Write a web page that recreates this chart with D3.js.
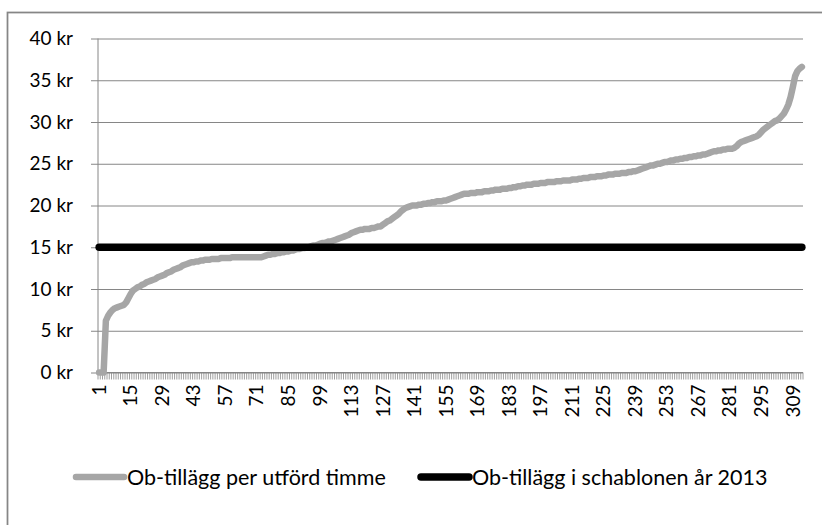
<!DOCTYPE html>
<html lang="sv">
<head>
<meta charset="UTF-8" />
<script src="https://d3js.org/d3.v7.min.js"></script>
<style>
	body { margin: 0; background: #fff; }
	svg { display: block; }
	text { font-family: Lato, "Open Sans", sans-serif; fill: #000; }
</style>
</head>
<body>
<script>
// Ob-tillägg per utförd timme, sorterat stigande (en punkt per enhet, 313 st)
var obPerTimme = [
	0, 0, 0, 6.2, 6.8, 7.2, 7.5, 7.7, 7.8, 7.9,
	8.0, 8.1, 8.4, 8.9, 9.4, 9.8, 10.0, 10.2, 10.3, 10.5,
	10.6, 10.8, 10.9, 11.0, 11.1, 11.2, 11.4, 11.5, 11.6, 11.7,
	11.9, 12.0, 12.1, 12.3, 12.4, 12.5, 12.6, 12.8, 12.9, 13.0,
	13.1, 13.2, 13.2, 13.3, 13.3, 13.4, 13.4, 13.5, 13.5, 13.5,
	13.6, 13.6, 13.6, 13.6, 13.7, 13.7, 13.7, 13.7, 13.7, 13.8,
	13.8, 13.8, 13.8, 13.8, 13.8, 13.8, 13.8, 13.8, 13.8, 13.8,
	13.8, 13.8, 13.8, 13.9, 14.0, 14.1, 14.1, 14.2, 14.2, 14.3,
	14.3, 14.4, 14.4, 14.5, 14.5, 14.6, 14.6, 14.7, 14.8, 14.8,
	14.9, 14.9, 15.0, 15.0, 15.1, 15.2, 15.2, 15.3, 15.4, 15.5,
	15.5, 15.6, 15.7, 15.7, 15.8, 15.9, 16.0, 16.1, 16.2, 16.3,
	16.4, 16.5, 16.7, 16.8, 16.9, 17.0, 17.1, 17.1, 17.2, 17.2,
	17.2, 17.3, 17.3, 17.4, 17.5, 17.5, 17.7, 17.9, 18.1, 18.2,
	18.4, 18.6, 18.8, 19.0, 19.3, 19.5, 19.7, 19.8, 19.9, 20.0,
	20.0, 20.0, 20.1, 20.1, 20.2, 20.2, 20.3, 20.3, 20.4, 20.4,
	20.5, 20.5, 20.5, 20.6, 20.6, 20.7, 20.8, 20.9, 21.0, 21.1,
	21.2, 21.3, 21.4, 21.4, 21.4, 21.5, 21.5, 21.5, 21.6, 21.6,
	21.6, 21.7, 21.7, 21.7, 21.8, 21.8, 21.9, 21.9, 21.9, 22.0,
	22.0, 22.0, 22.1, 22.1, 22.2, 22.2, 22.3, 22.3, 22.4, 22.4,
	22.5, 22.5, 22.5, 22.6, 22.6, 22.6, 22.7, 22.7, 22.7, 22.8,
	22.8, 22.8, 22.8, 22.9, 22.9, 22.9, 23.0, 23.0, 23.0, 23.0,
	23.1, 23.1, 23.1, 23.2, 23.2, 23.3, 23.3, 23.3, 23.4, 23.4,
	23.4, 23.5, 23.5, 23.5, 23.6, 23.6, 23.7, 23.7, 23.7, 23.8,
	23.8, 23.8, 23.9, 23.9, 23.9, 24.0, 24.0, 24.1, 24.1, 24.2,
	24.3, 24.4, 24.5, 24.6, 24.7, 24.8, 24.8, 24.9, 25.0, 25.0,
	25.1, 25.2, 25.2, 25.3, 25.4, 25.4, 25.5, 25.5, 25.6, 25.6,
	25.7, 25.7, 25.8, 25.8, 25.9, 25.9, 26.0, 26.0, 26.1, 26.1,
	26.2, 26.3, 26.4, 26.5, 26.5, 26.6, 26.6, 26.7, 26.7, 26.8,
	26.8, 26.8, 26.9, 27.1, 27.4, 27.6, 27.7, 27.8, 27.9, 28.0,
	28.1, 28.2, 28.3, 28.5, 28.8, 29.1, 29.3, 29.5, 29.7, 29.9,
	30.1, 30.2, 30.4, 30.7, 31.0, 31.5, 32.1, 33.0, 34.2, 35.5,
	36.1, 36.4, 36.6
];
// schablonen 2013: 15 kr för alla
var schablon = obPerTimme.map(function() { return 15; });
var categories = obPerTimme.map(function(d, i) { return i + 1; });
var yTicks = [0, 5, 10, 15, 20, 25, 30, 35, 40];
var xLabels = categories.filter(function(c) { return (c - 1) % 14 === 0; });
var seriesNames = ["Ob-tillägg per utförd timme", "Ob-tillägg i schablonen år 2013"];
var seriesColors = ["#a6a6a6", "#000000"];
var seriesWidths = [6.5, 7.5];

var width = 822, height = 525;
var plotLeft = 98, plotRight = 803, plotTop = 38.5, plotBottom = 372.5;
var gridColor = "#868686";

var svg = d3.select("body").append("svg")
	.attr("width", width)
	.attr("height", height);

// ram runt diagrammet
svg.append("rect")
	.attr("x", 7.5).attr("y", 12.5)
	.attr("width", width).attr("height", height)
	.attr("fill", "none")
	.attr("stroke", gridColor)
	.attr("stroke-width", 1.75);

var x = d3.scaleBand()
	.domain(categories)
	.range([plotLeft, plotRight])
	.padding(0);
var y = d3.scaleLinear()
	.domain([0, 40])
	.range([plotBottom, plotTop]);

function cx(c) { return x(c) + x.bandwidth() / 2; }

// y-axel med stödlinjer
var yAxis = d3.axisLeft(y)
	.tickValues(yTicks)
	.tickSize(-(plotRight - plotLeft))
	.tickFormat(function(d) { return d + " kr"; });
var gy = svg.append("g")
	.attr("transform", "translate(" + plotLeft + ",0)")
	.call(yAxis);
gy.select(".domain").remove();
gy.append("line")
	.attr("y1", plotTop).attr("y2", plotBottom)
	.attr("stroke", gridColor);
gy.selectAll(".tick line").attr("stroke", gridColor).attr("x1", -7);
gy.selectAll(".tick text")
	.attr("font-size", 19)
	.attr("fill", "#000")
	.attr("font-family", "Lato, sans-serif")
	.attr("x", -25);

// x-axel: streck mellan alla kategorier, etikett var 14:e
var gx = svg.append("g")
	.attr("transform", "translate(0," + plotBottom + ")");
gx.append("line")
	.attr("x1", plotLeft).attr("x2", plotRight)
	.attr("stroke", gridColor);
gx.selectAll("line.tk")
	.data(categories.concat([categories.length + 1]))
	.enter().append("line")
	.attr("class", "tk")
	.attr("x1", function(c) { return c > categories.length ? plotRight : x(c); })
	.attr("x2", function(c) { return c > categories.length ? plotRight : x(c); })
	.attr("y1", 0).attr("y2", 7)
	.attr("stroke", gridColor)
	.attr("stroke-width", 0.8);
gx.selectAll("text")
	.data(xLabels)
	.enter().append("text")
	.attr("transform", function(c) { return "translate(" + cx(c) + ",12) rotate(-90)"; })
	.attr("text-anchor", "end")
	.attr("dy", "0.35em")
	.attr("font-size", 19)
	.text(function(c) { return c; });

// linjer
var line = d3.line()
	.x(function(d, i) { return cx(categories[i]); })
	.y(function(d) { return y(d); });

[obPerTimme, schablon].forEach(function(serie, i) {
	svg.append("path")
		.datum(serie)
		.attr("d", line)
		.attr("fill", "none")
		.attr("stroke", seriesColors[i])
		.attr("stroke-width", seriesWidths[i])
		.attr("stroke-linejoin", "round")
		.attr("stroke-linecap", "round");
});

// förklaring
var legendX = [76, 421];
var legend = svg.append("g").attr("transform", "translate(0,477)");
seriesNames.forEach(function(name, i) {
	legend.append("line")
		.attr("x1", legendX[i]).attr("x2", legendX[i] + 48)
		.attr("stroke", seriesColors[i])
		.attr("stroke-width", seriesWidths[i])
		.attr("stroke-linecap", "round");
	legend.append("text")
		.attr("x", legendX[i] + 51)
		.attr("dy", "0.35em")
		.attr("font-size", 21.5)
		.text(name);
});
</script>
</body>
</html>
